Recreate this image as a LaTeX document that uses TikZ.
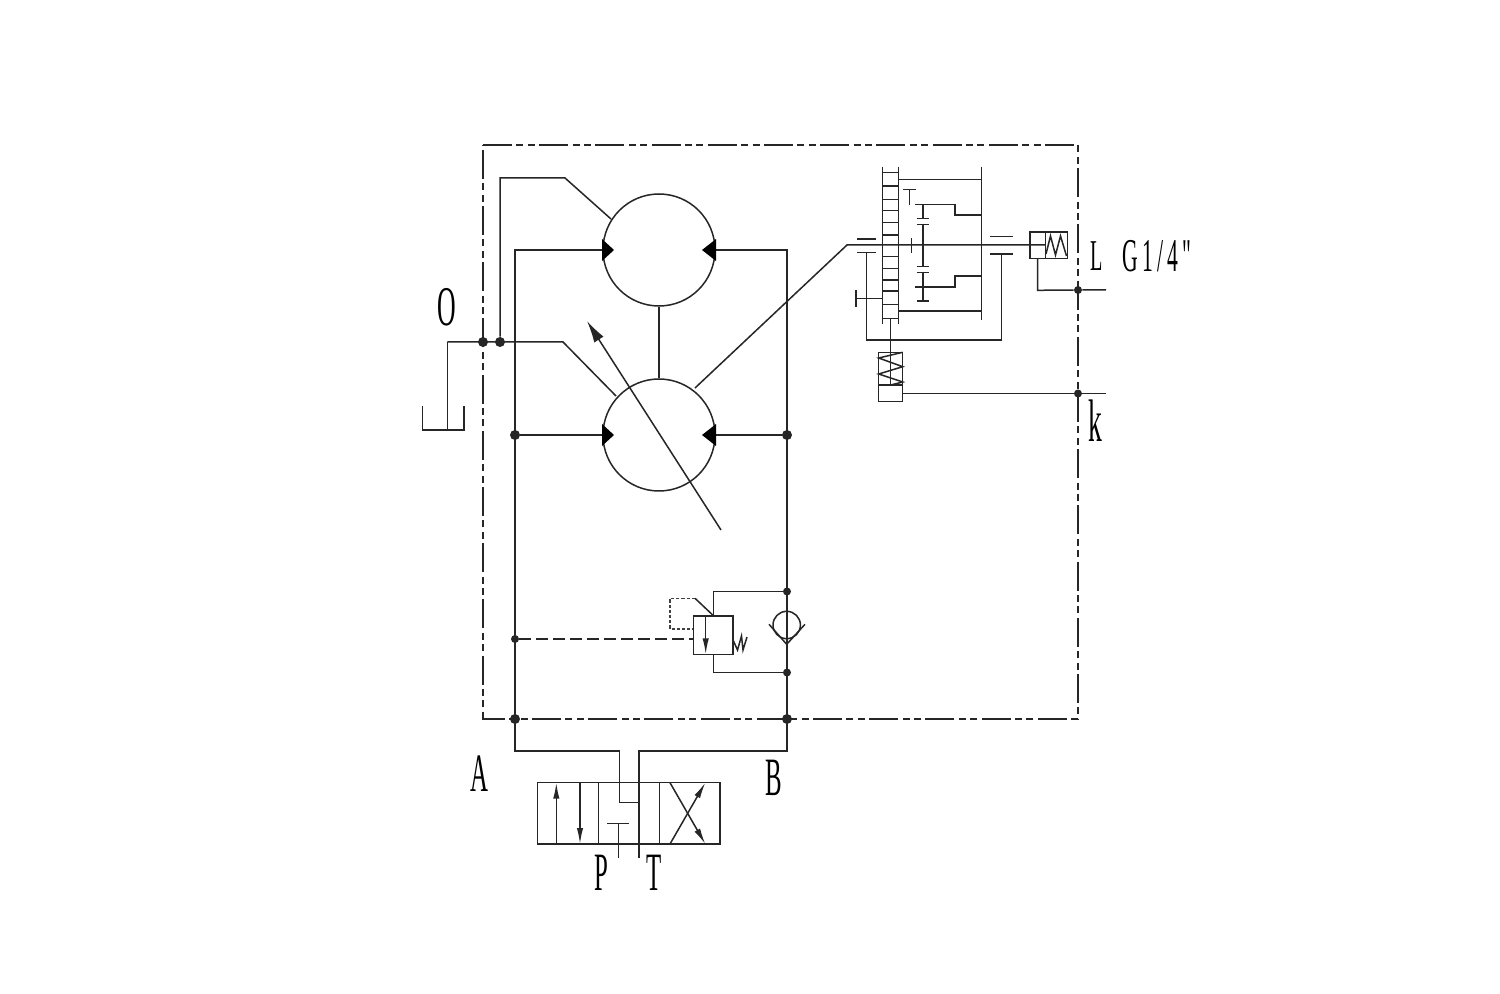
\documentclass[tikz,border=0pt]{standalone}
\usepackage{fontspec}
\usepackage{graphicx}
\setmainfont{Liberation Serif}
\newfontfamily\spacedfont[LetterSpace=20]{Liberation Serif}
\usetikzlibrary{arrows.meta}
\newcommand{\narrowlabel}[2]{{\fontsize{#1}{#1}\selectfont\scalebox{.46}[1]{#2}}}
\tikzset{
  wire/.style={line width=0.75pt,draw=black!85},
  housing/.style={line width=0.75pt,draw=black!85,dash pattern=on 14.5pt off 2.2pt on 3.5pt off 2.2pt on 3.5pt off 2.2pt},
  pilot/.style={line width=0.75pt,draw=black!85,dash pattern=on 6pt off 2.5pt},
  drainpilot/.style={line width=0.6pt,draw=black!75,dash pattern=on 1.6pt off 1pt},
  motor/.style={circle,draw=black!85,line width=0.75pt,minimum size=56pt,inner sep=0pt},
  junction/.style={circle,fill=black!85,minimum size=#1,inner sep=0pt},
  junction/.default=5pt,
  smalljunction/.style={circle,fill=black!85,minimum size=4pt,inner sep=0pt},
  port/.style={inner sep=0pt,text=black},
  head/.style={fill=black,draw=none},
  bigarrow/.style={wire,-{Latex[length=11pt,width=5.5pt]}},
  valvearrow/.style={wire,-{Latex[length=8pt,width=3.2pt]}}
}
\begin{document}
\begin{tikzpicture}[x=0.5pt,y=-0.5pt]
\useasboundingbox (0,0) rectangle (1500,994);
\fill[white] (0,0) rectangle (1500,994);

% housing
\draw[housing] (483,145) -- (1078,145) -- (1078,719) -- (483,719) -- cycle;

% motors
\node[motor] (mtop) at (659,250) {};
\node[motor] (mbot) at (659,435) {};
\draw[wire] (mtop.south) -- (mbot.north);

% junctions
\node[junction] (jo1) at (483,342) {};
\node[junction] (jo2) at (500,342) {};
\node[junction] (jl) at (515,435) {};
\node[junction] (jr) at (787,435) {};
\node[junction] (jbl) at (515,719) {};
\node[junction] (jbr) at (787,719) {};
\node[smalljunction] (jp) at (515,639) {};
\node[smalljunction] (jc1) at (787,591.5) {};
\node[smalljunction] (jc2) at (787,672.5) {};
\node[smalljunction] (jL) at (1078,290) {};
\node[smalljunction] (jk) at (1078,393.5) {};

% main lines
\coordinate (tl) at (515,250);
\coordinate (tr) at (787,250);
\coordinate (bl) at (515,751);
\coordinate (br) at (787,751);
\coordinate (vl) at (619.5,751);
\coordinate (vr) at (639,751);
\draw[wire] (mtop.west) -- (tl) -- (bl) -- (vl) -- (619.5,802.7) -- (639,802.7);
\draw[wire] (mtop.east) -- (tr) -- (br) -- (vr) -- (639,858);
\draw[wire] (jl) -- (mbot.west);
\draw[wire] (jr) -- (mbot.east);

% motor port heads
\fill[head] (602,239) -- (614,250) -- (602,261) -- cycle;
\fill[head] (716,239) -- (702,250) -- (716,261) -- cycle;
\fill[head] (602,424) -- (614,435) -- (602,446) -- cycle;
\fill[head] (716,424) -- (702,435) -- (716,446) -- cycle;

% case drain and tank
\draw[wire] (jo2) -- (500,178) -- (565,178) -- (611,219);
\coordinate (tk) at (447.3,342);
\draw[wire] (tk) -- (563,342) -- (616,396);
\draw[wire] (tk) -- (447.3,430);
\draw[wire] (422.7,406) -- (422.7,430) -- (464,430) -- (464,406);

% variable arrow
\coordinate (va) at (721,530);
\coordinate (vb) at (587,321);
\draw[bigarrow] (va) -- (vb);

% shaft
\draw[wire] (695,388) -- (847,245) -- (1045.3,245);

% gearbox ladder
\draw[wire] (882.3,167) -- (882.3,324);
\draw[wire] (898.7,167) -- (898.7,324);
\foreach \yy in {172.3,186,199.3,210.7,222.3,235,256.7,268.3,280,291,304.7,318.3}
  \draw[wire] (882.3,\yy) -- (898.7,\yy);
\draw[wire] (981.7,167) -- (981.7,320);
\draw[wire] (898.7,179.3) -- (981.7,179.3);
\draw[wire] (898.7,311) -- (981.7,311);
\draw[wire] (903.3,189.3) -- (916,189.3);
\draw[wire] (909.7,189.3) -- (909.7,205);
\draw[wire] (915.3,204.3) -- (955,204.3) -- (955,215) -- (981.7,215);
\draw[wire] (915.3,287) -- (955,287) -- (955,276) -- (981.7,276);
\draw[wire] (923,204.3) -- (923,218.3);
\draw[wire] (917,218.3) -- (929.3,218.3);
\draw[wire] (917,224.3) -- (929.3,224.3);
\draw[wire] (923,224.3) -- (923,266.7);
\draw[wire] (917,266.7) -- (929.3,266.7);
\draw[wire] (917,272.3) -- (929.3,272.3);
\draw[wire] (923,272.3) -- (923,301);
\draw[wire] (917,301) -- (929.3,301);
\draw[wire] (911.7,238.3) -- (911.7,252.7);
\draw[wire] (990,236.7) -- (1012.7,236.7);
\draw[wire] (990,254) -- (1012.7,254);
\draw[wire] (1001.3,254) -- (1001.3,340) -- (866.3,340) -- (866.3,252.3);
\draw[wire] (857.3,252.3) -- (876,252.3);
\draw[wire] (857.3,239) -- (876,239);
\draw[wire] (856,298.3) -- (882.3,298.3);
\draw[wire] (856,290) -- (856,306.7);

% spring box below gearbox
\draw[wire] (878.7,352.3) rectangle (902.7,401.7);
\draw[wire] (878.7,385) -- (902.7,385);
\draw[wire] (890.7,318.3) -- (890.7,385);
\draw[wire] (902.7,352.3) -- (878.7,358) -- (902.7,366.7) -- (878.7,374) -- (902.7,382) -- (890.7,385);
\draw[wire] (902.7,393.5) -- (jk) -- (1106,393.5);

% L valve
\draw[wire] (1030,232) rectangle (1067.7,258.7);
\draw[wire] (1045.3,232) -- (1045.3,258.7);
\draw[wire] (1046,254) -- (1050.5,236) -- (1055.5,255) -- (1060.5,236) -- (1066.5,256);
\draw[wire] (1037.7,258.7) -- (1037.7,290.3) -- (jL) -- (1106,290);

% relief valve
\draw[wire] (jc1) -- (713.3,591.5) -- (713.3,616);
\draw[wire] (693.3,616) rectangle (733,654.3);
\draw[valvearrow] (705.7,616) -- (705.7,654.3);
\draw[wire] (713.3,654.3) -- (713.3,672.5) -- (jc2);
\draw[wire] (712.7,615) -- (695,598.3);
\draw[drainpilot] (695,598.3) -- (670,598.3) -- (670,629) -- (693.3,629);
\draw[pilot] (jp) -- (693.3,639);
\draw[wire] (733,640) -- (737.5,650) -- (741.5,636) -- (743,650) -- (747,637);

% check valve
\node[circle,draw=black!85,line width=0.75pt,minimum size=13.7pt,inner sep=0pt] (chk) at (786.7,625) {};
\draw[wire] (769,624.3) -- (786.7,644.3) -- (805,624.3);

% directional valve
\draw[wire] (537.3,782.7) rectangle (720,844);
\draw[wire] (598.3,782.7) -- (598.3,844);
\draw[wire] (659.3,782.7) -- (659.3,844);
\draw[valvearrow] (556.3,844) -- (556.3,782.7);
\draw[valvearrow] (580,782.7) -- (580,844);
\draw[wire] (607.3,823.3) -- (628.7,823.3);
\draw[wire] (618.7,823.3) -- (618.7,858);
\draw[valvearrow] (670,844) -- (705.3,782.7);
\draw[valvearrow] (670,782.7) -- (705.3,844);

% labels
\node[port] (lO) at (447,307) {\narrowlabel{28}{O}};
\node[port] (lA) at (479,774) {\narrowlabel{27}{A}};
\node[port] (lB) at (774,778) {\narrowlabel{27}{B}};
\node[port] (lP) at (601,873) {\narrowlabel{27}{P}};
\node[port] (lT) at (654,873) {\narrowlabel{27}{T}};
\node[port] (lL) at (1096.5,256) {\narrowlabel{22}{L}};
\node[port] (lG) at (1157,256) {\narrowlabel{23.5}{\spacedfont G1/4"}};
\node[port] (lk) at (1095,421) {\narrowlabel{30}{k}};
\end{tikzpicture}
\end{document}
